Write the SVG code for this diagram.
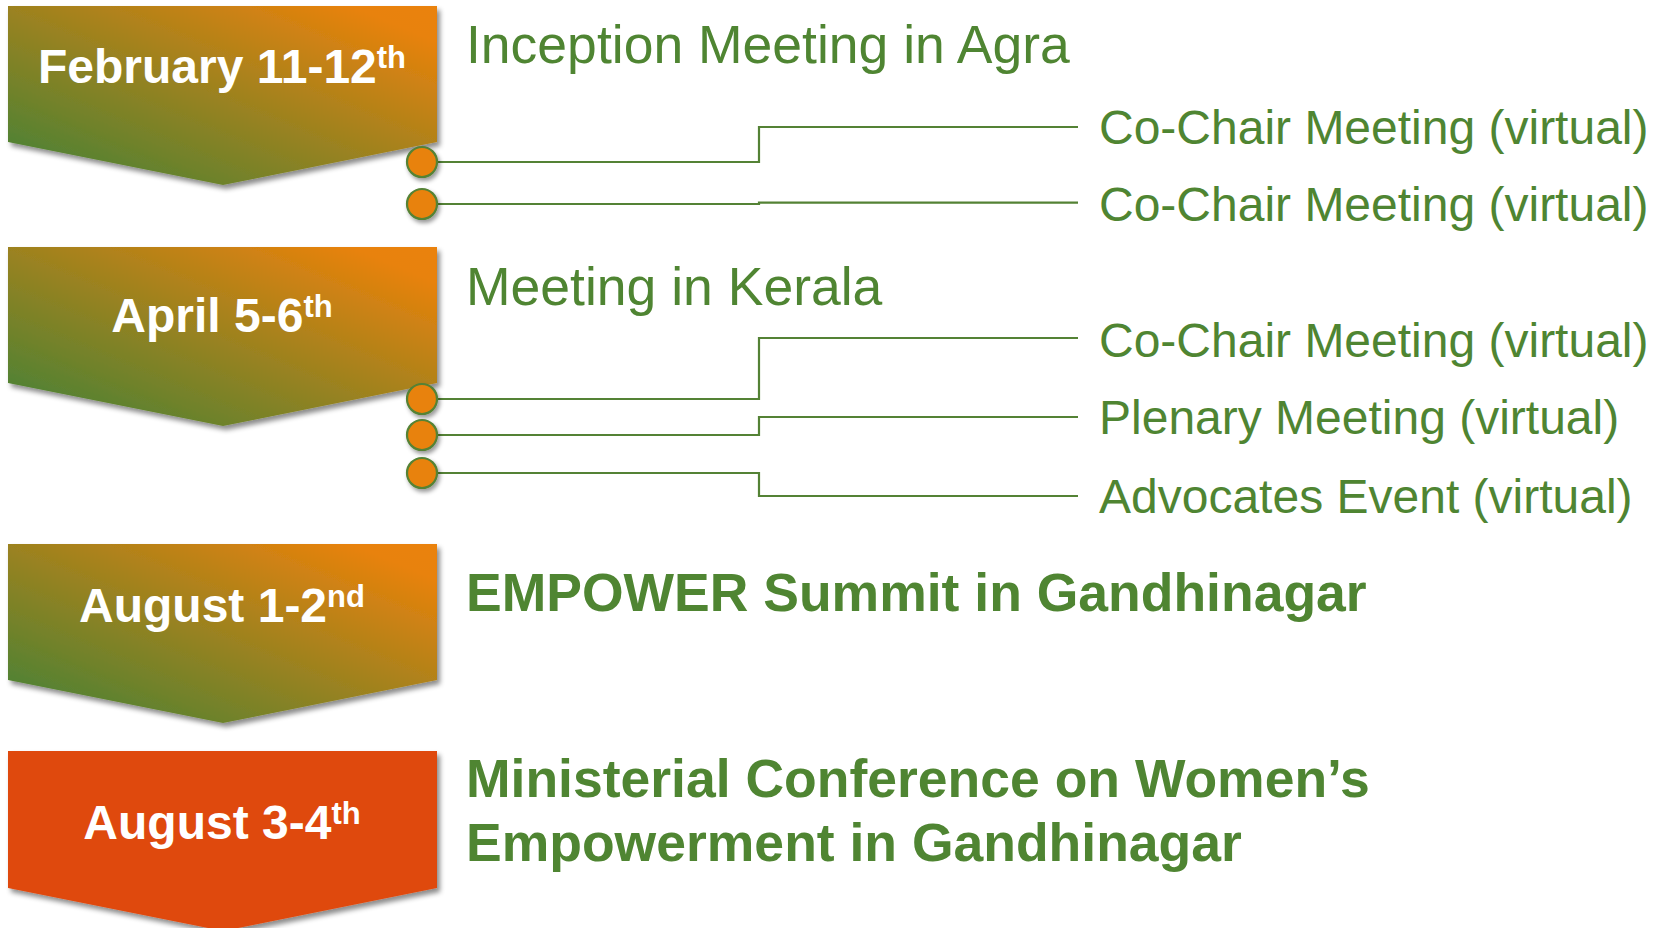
<svg xmlns="http://www.w3.org/2000/svg" width="1658" height="928" viewBox="0 0 1658 928">
  <defs>
    <linearGradient id="gradChev" x1="0" y1="1" x2="1" y2="0">
      <stop offset="0" stop-color="#4E8232"/>
      <stop offset="0.12" stop-color="#548232"/>
      <stop offset="0.9" stop-color="#E8820C"/>
      <stop offset="1" stop-color="#EA820A"/>
    </linearGradient>
    <filter id="shadow" x="-10%" y="-10%" width="125%" height="130%">
      <feDropShadow dx="3" dy="4" stdDeviation="2.5" flood-color="#000" flood-opacity="0.45"/>
    </filter>
    <filter id="shadowSmall" x="-40%" y="-40%" width="190%" height="190%">
      <feDropShadow dx="2" dy="3" stdDeviation="2" flood-color="#000" flood-opacity="0.4"/>
    </filter>
  </defs>
  <style>
    .chev { fill: url(#gradChev); filter: url(#shadow); }
    .chevRed { fill: #DF4A0E; filter: url(#shadow); }
    .date { font-family: "Liberation Sans", Arial, sans-serif; font-weight: bold; font-size: 48px; fill: #FFFFFF; text-anchor: middle; }
    .sup { font-size: 31px; }
    .head { font-family: "Liberation Sans", Arial, sans-serif; font-size: 53.5px; fill: #4F8532; }
    .headB { font-family: "Liberation Sans", Arial, sans-serif; font-size: 53.5px; font-weight: bold; fill: #4F8532; }
    .sub { font-family: "Liberation Sans", Arial, sans-serif; font-size: 48px; fill: #4F8532; }
    .conn { fill: none; stroke: #548235; stroke-width: 2.2; }
    .dot { fill: #E8820A; stroke: #548235; stroke-width: 2.2; filter: url(#shadowSmall); }
  </style>

  <g id="node-feb">
    <polygon class="chev" points="8,6 437,6 437,142 223,185 8,142"/>
    <text class="date" x="222" y="83">February 11-12<tspan class="sup" dy="-15">th</tspan></text>
  </g>
  <g id="node-apr">
    <polygon class="chev" points="8,247 437,247 437,383 223,426 8,383"/>
    <text class="date" x="222" y="332">April 5-6<tspan class="sup" dy="-15">th</tspan></text>
  </g>
  <g id="node-aug1">
    <polygon class="chev" points="8,544 437,544 437,680 223,723 8,680"/>
    <text class="date" x="222" y="622">August 1-2<tspan class="sup" dy="-15">nd</tspan></text>
  </g>
  <g id="node-aug3">
    <polygon class="chevRed" points="8,751 437,751 437,888 223,931 8,888"/>
    <text class="date" x="222" y="839">August 3-4<tspan class="sup" dy="-15">th</tspan></text>
  </g>

  <g id="connectors">
    <path class="conn" d="M422,162 H759 V127 H1078"/>
    <path class="conn" d="M422,204 H759 V202.7 H1078"/>
    <path class="conn" d="M422,399 H759 V338 H1078"/>
    <path class="conn" d="M422,435 H759 V417 H1078"/>
    <path class="conn" d="M422,473 H759 V496 H1078"/>
  </g>

  <g id="dot-1"><circle class="dot" cx="422" cy="162" r="15"/></g>
  <g id="dot-2"><circle class="dot" cx="422" cy="204" r="15"/></g>
  <g id="dot-3"><circle class="dot" cx="422" cy="399" r="15"/></g>
  <g id="dot-4"><circle class="dot" cx="422" cy="435" r="15"/></g>
  <g id="dot-5"><circle class="dot" cx="422" cy="473" r="15"/></g>

  <g id="label-agra"><text class="head" x="466" y="63">Inception Meeting in Agra</text></g>
  <g id="label-kerala"><text class="head" x="466" y="305">Meeting in Kerala</text></g>
  <g id="label-empower"><text class="headB" x="466" y="611">EMPOWER Summit in Gandhinagar</text></g>
  <g id="label-ministerial">
    <text class="headB" x="466" y="797">Ministerial Conference on Women’s</text>
    <text class="headB" x="466" y="861">Empowerment in Gandhinagar</text>
  </g>

  <g id="label-cochair-1"><text class="sub" x="1099" y="144">Co-Chair Meeting (virtual)</text></g>
  <g id="label-cochair-2"><text class="sub" x="1099" y="221">Co-Chair Meeting (virtual)</text></g>
  <g id="label-cochair-3"><text class="sub" x="1099" y="357">Co-Chair Meeting (virtual)</text></g>
  <g id="label-plenary"><text class="sub" x="1099" y="434">Plenary Meeting (virtual)</text></g>
  <g id="label-advocates"><text class="sub" x="1099" y="513">Advocates Event (virtual)</text></g>
</svg>
